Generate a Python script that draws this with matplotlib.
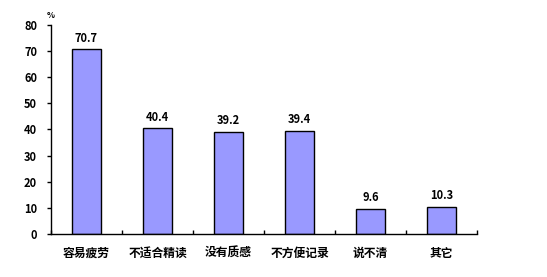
import matplotlib
matplotlib.use("Agg")
import matplotlib.pyplot as plt
from matplotlib.ticker import FixedLocator

plt.rcParams['font.family'] = ['Noto Sans CJK SC', 'DejaVu Sans']
plt.rcParams['font.weight'] = 'bold'

categories = ["容易疲劳", "不适合精读", "没有质感", "不方便记录", "说不清", "其它"]
values = [70.7, 40.4, 39.2, 39.4, 9.6, 10.3]
y_ticks = [0, 10, 20, 30, 40, 50, 60, 70, 80]

fig = plt.figure(figsize=(5.47, 2.77), dpi=100)
ax = fig.add_axes([0.0932, 0.155, 0.779, 0.755])

xs = list(range(len(categories)))
bars = ax.bar(xs, values, width=0.41, color="#9999FF", edgecolor="black", linewidth=1.0)

# value labels above each bar
for x, v in zip(xs, values):
    ax.text(x, v + 1.8, f"{v:.1f}", ha="center", va="bottom", fontsize=8, fontweight="bold")

ax.set_xlim(-0.5, len(categories) - 0.5)
ax.set_ylim(0, 80)
ax.set_yticks(y_ticks)
ax.set_yticklabels([str(t) for t in y_ticks], fontsize=8, fontweight="bold")
ax.set_xticks(xs)
ax.set_xticklabels(categories, fontsize=8.5, fontweight="bold")
ax.tick_params(axis="x", which="major", length=0, pad=9)
ax.xaxis.set_minor_locator(FixedLocator([i - 0.5 for i in range(len(categories) + 1)]))
ax.tick_params(axis="x", which="minor", direction="in", length=3, width=1)
ax.tick_params(axis="y", direction="out", length=3, width=1, pad=7)

for s in ["top", "right"]:
    ax.spines[s].set_visible(False)
ax.spines["left"].set_linewidth(1)
ax.spines["bottom"].set_linewidth(1)

ax.text(0.0, 1.025, "%", transform=ax.transAxes, ha="center", va="bottom", fontsize=6, fontweight="bold")

fig.savefig("out.png", dpi=100)
